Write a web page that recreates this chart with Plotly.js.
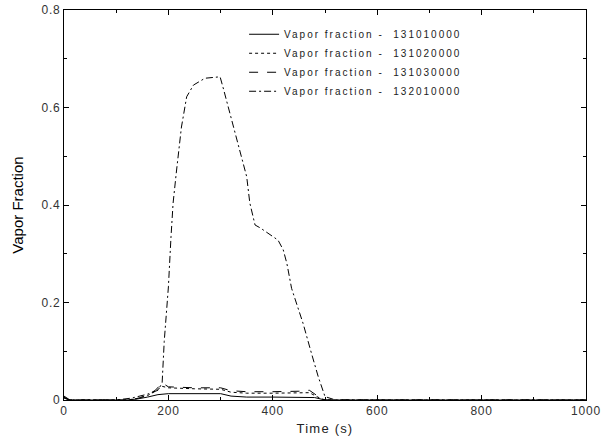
<!DOCTYPE html>
<html>
<head>
<meta charset="utf-8">
<script src="https://cdn.plot.ly/plotly-3.0.1.min.js"></script>
<style>
html,body{margin:0;padding:0;background:#fff;}
#chart{width:606px;height:441px;}
.legendtext{letter-spacing:2px;}
.xtick text,.ytick text{letter-spacing:0.8px;}
.xtitle{letter-spacing:1.2px;}
</style>
</head>
<body>
<div id="chart"></div>
<script>
// Series names
const seriesNames = [
  "Vapor fraction -  131010000",
  "Vapor fraction -  131020000",
  "Vapor fraction -  131030000",
  "Vapor fraction -  132010000"
];

// 131010000 (solid)
const t1 = [0, 10, 120, 140, 160, 180, 200, 300, 320, 350, 400, 450, 480, 500, 1000];
const v1 = [0.004, 0, 0, 0.002, 0.006, 0.011, 0.013, 0.013, 0.008, 0.006, 0.006, 0.006, 0.005, 0, 0];

// 131020000 (dotted)
const t2 = [0, 10, 120, 140, 160, 175, 188, 200, 250, 300, 320, 350, 400, 450, 470, 490, 500, 1000];
const v2 = [0.005, 0, 0, 0.003, 0.009, 0.018, 0.028, 0.025, 0.023, 0.022, 0.016, 0.014, 0.014, 0.015, 0.015, 0.004, 0, 0];

// 131030000 (dashed)
const t3 = [0, 10, 120, 140, 160, 175, 188, 200, 250, 300, 320, 350, 400, 450, 470, 490, 500, 1000];
const v3 = [0.006, 0, 0, 0.003, 0.01, 0.02, 0.035, 0.027, 0.025, 0.025, 0.019, 0.017, 0.017, 0.018, 0.02, 0.005, 0, 0];

// 132010000 (dash-dot)
const t4 = [0, 5, 10, 20, 100, 130, 160, 180, 188, 192, 200, 205, 209, 215, 225, 235, 248, 270, 299, 305, 321, 334, 350, 356, 366, 376, 391, 410, 420, 427, 436, 446, 458, 474, 487, 500, 520, 1000];
const v4 = [0.008, 0.004, 0.001, 0, 0, 0.004, 0.012, 0.02, 0.035, 0.12, 0.232, 0.335, 0.404, 0.465, 0.56, 0.622, 0.646, 0.66, 0.663, 0.64, 0.574, 0.52, 0.458, 0.404, 0.359, 0.353, 0.342, 0.328, 0.308, 0.28, 0.229, 0.198, 0.157, 0.096, 0.048, 0.007, 0, 0];

const dashes = ["solid", "dot", "dash", "7px,3px,2px,3px"];
const xs = [t1, t2, t3, t4];
const ys = [v1, v2, v3, v4];

const traces = xs.map((x, i) => ({
  x: x, y: ys[i], type: "scatter", mode: "lines", name: seriesNames[i],
  line: {color: "#000", width: 1, dash: dashes[i]}
}));

const axisCommon = {
  showline: true, linecolor: "#000", linewidth: 1, mirror: "ticks",
  ticks: "inside", ticklen: 5, tickcolor: "#000", showgrid: false, zeroline: false,
  tickfont: {family: "Liberation Sans, Arial, sans-serif", size: 12, color: "#333"}
};

const layout = {
  width: 606, height: 441,
  margin: {l: 64, r: 20, t: 10, b: 41},
  paper_bgcolor: "#fff", plot_bgcolor: "#fff",
  showlegend: true,
  legend: {x: 0.345, y: 0.975, xanchor: "left", yanchor: "top", bgcolor: "rgba(0,0,0,0)",
    font: {family: "Liberation Sans, Arial, sans-serif", size: 10, color: "#222"},
    tracegroupgap: 0, itemwidth: 30},
  xaxis: Object.assign({}, axisCommon, {
    range: [0, 1000], dtick: 200, tick0: 0,
    minor: {dtick: 100, ticks: "inside", ticklen: 3, tickcolor: "#000"},
    title: {text: "Time (s)", standoff: 6, font: {family: "Liberation Sans, Arial, sans-serif", size: 13, color: "#222"}}
  }),
  yaxis: Object.assign({}, axisCommon, {
    range: [0, 0.8], dtick: 0.2, tick0: 0,
    minor: {dtick: 0.1, ticks: "inside", ticklen: 3, tickcolor: "#000"},
    title: {text: "Vapor Fraction", standoff: 14, font: {family: "Liberation Sans, Arial, sans-serif", size: 15, color: "#000"}}
  })
};

Plotly.newPlot("chart", traces, layout, {displayModeBar: false, staticPlot: true});
</script>
</body>
</html>
